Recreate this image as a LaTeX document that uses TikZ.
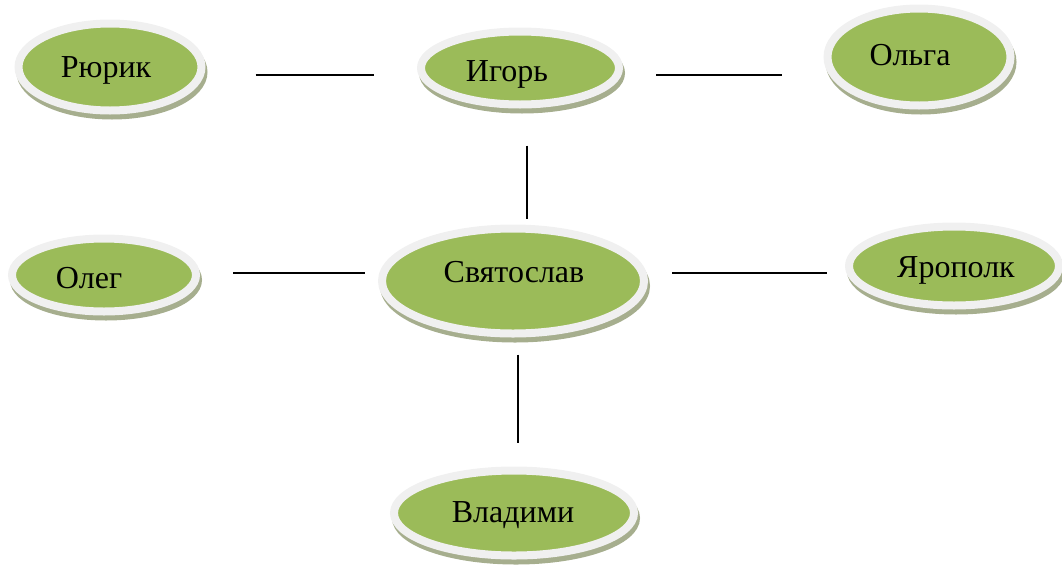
\documentclass[tikz,border=0pt]{standalone}
\usepackage{fontspec}
\setmainfont{Liberation Serif}
\usetikzlibrary{shapes.geometric,shadows}

\definecolor{leafgreen}{HTML}{9BBB59}
\definecolor{rimgray}{HTML}{F0F0F0}
\definecolor{shadowolive}{HTML}{A6AE8E}

\tikzset{
  person/.style={ellipse, fill=leafgreen, draw=rimgray, line width=8pt, inner sep=0pt,
    drop shadow={shadow xshift=2pt, shadow yshift=-5pt, fill=shadowolive, draw=shadowolive, line width=8pt, opacity=1}},
  every label/.style={font=\fontsize{32}{36}\selectfont, text height=22pt, text depth=0pt, inner sep=0pt},
  link/.style={line width=1.6pt, black}
}

\begin{document}
\begin{tikzpicture}[x=1pt,y=-1pt]
\useasboundingbox (0,0) rectangle (1062,568);

 \node[person, minimum width=183pt, minimum height=87pt, label={[xshift=-4pt,yshift=1pt]center:Рюрик}] at (110,67) (ryurik) {};
 \node[person, minimum width=198pt, minimum height=73pt, label={[xshift=-13pt,yshift=-2pt]center:Игорь}] at (520,68) (igor) {};
 \node[person, minimum width=183pt, minimum height=97pt, label={[xshift=-9pt,yshift=3pt]center:Ольга}] at (919,57) (olga) {};
 \node[person, minimum width=184pt, minimum height=73pt, label={[xshift=-15pt,yshift=-2pt]center:Олег}] at (104,275) (oleg) {};
 \node[person, minimum width=262pt, minimum height=105pt, label={[xshift=1pt,yshift=10pt]center:Святослав}] at (513,281) (svyat) {};
 \node[person, minimum width=210pt, minimum height=79pt, label={[xshift=2pt]center:Ярополк}] at (954,266) (yaropolk) {};
 \node[person, minimum width=240pt, minimum height=85pt, label={[xshift=-1pt,yshift=2pt]center:Владими}] at (514,513) (vladimir) {};

\draw[link, shorten <=50pt, shorten >=43pt]([yshift=-8pt]ryurik.east) -- ([yshift=-7pt]igor.west);
\draw[link, shorten <=33pt, shorten >=42pt]([yshift=-7pt]igor.east) -- ([yshift=-18pt]olga.west);
\draw[link, shorten <=37pt, shorten >=6pt]([xshift=7pt]igor.south) -- ([xshift=14pt]svyat.north);
\draw[link, shorten <=33pt, shorten >=13pt]([yshift=2pt]oleg.east) -- ([yshift=8pt]svyat.west);
\draw[link, shorten <=24pt, shorten >=18pt]([yshift=8pt]svyat.east) -- ([yshift=-7pt]yaropolk.west);
\draw[link, shorten <=17pt, shorten >=24pt]([xshift=5pt]svyat.south) -- ([xshift=4pt]vladimir.north);
\end{tikzpicture}
\end{document}
